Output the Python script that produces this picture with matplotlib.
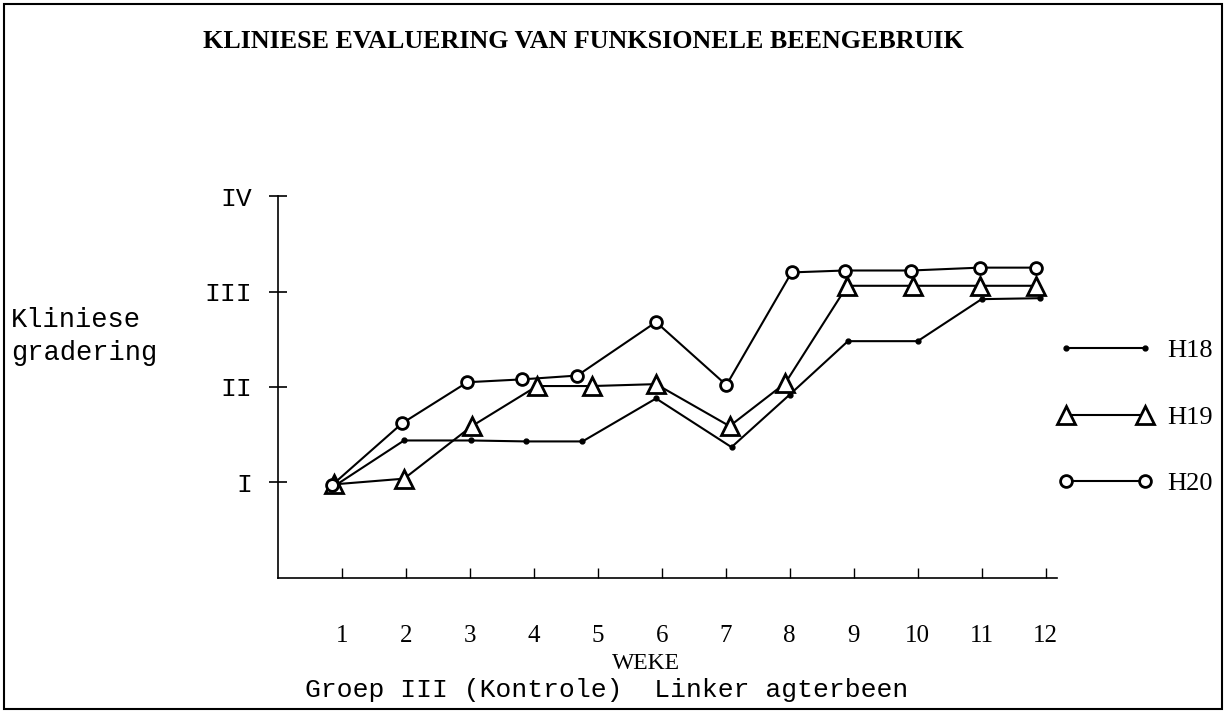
import matplotlib.pyplot as plt
from matplotlib.patches import Rectangle

# weeks as drawn (hand-plotted positions drift a little off the ticks)
weeks_h18 = [0.92, 1.97, 3.02, 3.88, 4.76, 5.91, 7.09, 8.00, 8.91, 10.0, 11.0, 11.91]
grade_h18 = [0.98, 1.44, 1.44, 1.43, 1.43, 1.88, 1.37, 1.92, 2.48, 2.48, 2.92, 2.93]

weeks_h19 = [0.87, 1.97, 3.03, 4.05, 4.91, 5.91, 7.06, 7.93, 8.90, 9.92, 10.97, 11.85]
grade_h19 = [0.98, 1.04, 1.59, 2.01, 2.01, 2.03, 1.59, 2.04, 3.06, 3.06, 3.06, 3.06]

weeks_h20 = [0.84, 1.94, 2.96, 3.82, 4.68, 5.91, 7.01, 8.03, 8.86, 9.90, 10.97, 11.85]
grade_h20 = [0.97, 1.62, 2.05, 2.08, 2.12, 2.68, 2.02, 3.20, 3.22, 3.22, 3.25, 3.25]

week_ticks = list(range(1, 13))
grade_ticks = [1, 2, 3, 4]
grade_labels = ['I', 'II', 'III', 'IV']

serif = 'Liberation Serif'
mono = 'Liberation Mono'

fig = plt.figure(figsize=(12.26, 7.11), dpi=100)
ax = fig.add_axes([0.2268, 0.1871, 0.8622 - 0.2268, 0.7243 - 0.1871])

lw = 1.5
ax.plot(weeks_h18, grade_h18, color='black', linewidth=lw, marker='o', markersize=3.5,
        markerfacecolor='black', label='H18', zorder=3)
ax.plot(weeks_h19, grade_h19, color='black', linewidth=lw, marker='^', markersize=13,
        markerfacecolor='white', markeredgewidth=2, label='H19', zorder=4)
ax.plot(weeks_h20, grade_h20, color='black', linewidth=lw, marker='o', markersize=8.5,
        markerfacecolor='white', markeredgewidth=2, label='H20', zorder=5)

ax.set_xlim(0, 12.18)
ax.set_ylim(0, 4.0)
ax.spines['top'].set_visible(False)
ax.spines['right'].set_visible(False)
ax.spines['left'].set_linewidth(1.2)
ax.spines['bottom'].set_linewidth(1.2)

ax.set_xticks(week_ticks)
ax.set_xticklabels([str(w) for w in week_ticks], fontsize=18, family=serif)
ax.tick_params(axis='x', direction='in', length=7, width=1, pad=34)
ax.set_yticks(grade_ticks)
ax.set_yticklabels(grade_labels, fontsize=19, family=mono)
ax.tick_params(axis='y', direction='inout', length=13, width=1.2, pad=12)

ax.legend(loc='center left', bbox_to_anchor=(0.852, 0.4135), bbox_transform=fig.transFigure,
          numpoints=2, frameon=False, handlelength=3.6, handletextpad=0.55,
          labelspacing=1.64, borderpad=0, prop={'family': serif, 'size': 19})

fig.text(0.4755, 0.941, 'KLINIESE EVALUERING VAN FUNKSIONELE BEENGEBRUIK',
         ha='center', va='center', fontsize=18.7, fontweight='bold', family=serif)
fig.text(0.009, 0.527, 'Kliniese\ngradering', ha='left', va='center',
         fontsize=19.5, family=mono, linespacing=1.35)
fig.text(0.527, 0.067, 'WEKE', ha='center', va='center', fontsize=17, family=serif)
fig.text(0.249, 0.030, 'Groep III (Kontrole)  Linker agterbeen', ha='left', va='center',
         fontsize=19, family=mono)

# page frame
fig.patches.append(Rectangle((0.003, 0.003), 0.994, 0.991, transform=fig.transFigure,
                             fill=False, edgecolor='black', linewidth=1.5))

fig.savefig('out.png', dpi=100)
